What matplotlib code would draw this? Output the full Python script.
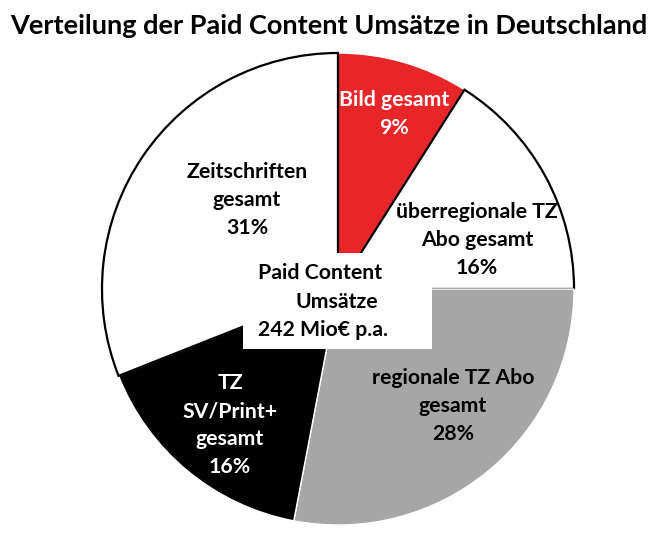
import matplotlib
matplotlib.use("Agg")
import matplotlib.pyplot as plt
from matplotlib.patches import Rectangle

plt.rcParams['font.family'] = ['Lato', 'DejaVu Sans']

# data
labels = ["Bild gesamt", "überregionale TZ\nAbo gesamt", "regionale TZ Abo\ngesamt",
          "TZ\nSV/Print+\ngesamt", "Zeitschriften\ngesamt"]
shares = [9, 16, 28, 16, 31]
colors = ["#E8262A", "#FFFFFF", "#A6A6A6", "#000000", "#FFFFFF"]
text_colors = ["white", "black", "black", "white", "black"]
edge_colors = ["white", "black", "white", "white", "black"]
center_lines = ["Paid Content", "Umsätze", "242 Mio€ p.a."]

title = "Verteilung der Paid Content Umsätze in Deutschland"

W, H = 657, 543
fig = plt.figure(figsize=(W / 100, H / 100), dpi=100)
ax = fig.add_axes([0, 0, 1, 1])

cx, cy, R = 338, H - 289, 236

wedges, _ = ax.pie(shares, colors=colors, startangle=90, counterclock=False,
                   explode=[0.02] * len(shares), center=(cx, cy), radius=R,
                   wedgeprops=dict(linewidth=1.6))
for w, ec in zip(wedges, edge_colors):
    w.set_edgecolor(ec)
    if ec == "white":
        w.set_linewidth(1.0)

# pie() resets limits, so set them afterwards
ax.set_xlim(0, W)
ax.set_ylim(0, H)
ax.set_aspect("auto")
ax.axis("off")

fs = 15.3
# label positions (image px, centre of text block)
label_pos = [(394, 114), (477, 240), (453, 406), (230, 425), (247, 200)]
for lab, s, (x, y), tc in zip(labels, shares, label_pos, text_colors):
    ax.text(x, H - y, f"{lab}\n{s}%", ha="center", va="center", color=tc,
            fontsize=fs, fontweight="bold", linespacing=1.5)

# centre box
ax.add_patch(Rectangle((243, H - 349), 189, 96, facecolor="white",
                       edgecolor="none", zorder=5))
for line, (x, y) in zip(center_lines, [(320, 273), (337, 302), (323, 330)]):
    ax.text(x, H - y, line, ha="center", va="center", fontsize=fs,
            fontweight="bold", zorder=6)

ax.text(W / 2, H - 26, title, ha="center", va="center", fontsize=19.5,
        fontweight="bold")

fig.savefig("out.png", dpi=100)
